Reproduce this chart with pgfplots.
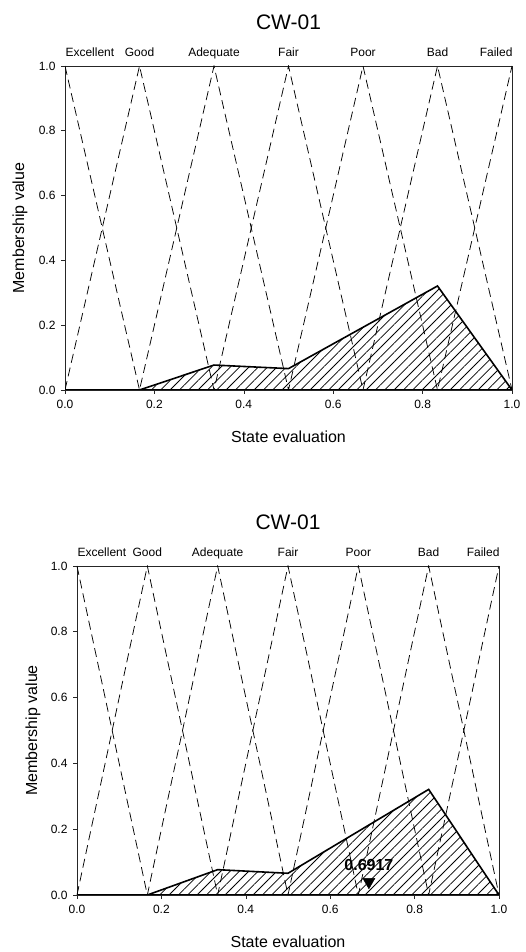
\documentclass[border=0pt]{standalone}
\usepackage{fontspec}
\setmainfont{Liberation Sans}
\usepackage{pgfplots}
\pgfplotsset{compat=1.18}
\usetikzlibrary{patterns.meta}

\pgfplotsset{
  fuzzy/.style={
    scale only axis,
    xmin=0, xmax=1, ymin=0, ymax=1,
    xtick={0,0.2,0.4,0.6,0.8,1.0},
    ytick={0,0.2,0.4,0.6,0.8,1.0},
    /pgf/number format/assume math mode=true,
    /pgf/number format/fixed,
    /pgf/number format/fixed zerofill,
    /pgf/number format/precision=1,
    tick align=outside,
    xtick pos=bottom, ytick pos=left,
    major tick length=4pt,
    tick style={black!85, line width=0.6pt},
    axis line style={black!85, line width=0.8pt},
    tick label style={font=\fontsize{12}{14}\selectfont},
    xticklabel style={yshift=-3pt},
    yticklabel style={xshift=-2pt},
    xlabel={State evaluation},
    ylabel={Membership value},
    title={CW-01},
    clip mode=individual,
  },
  dash/.style={black, line width=0.75pt, dash pattern=on 9pt off 5pt},
  area/.style={black, line width=1.6pt, line join=miter,
    pattern={Lines[angle=45,distance=6.6pt,line width=0.75pt]}, pattern color=black},
}

\pgfplotstableread{
x y
0 1
0.16667 0
0.33333 1
0.5 0
0.66667 1
0.83333 0
1 1
}\zigA
\pgfplotstableread{
x y
0 0
0.16667 1
0.33333 0
0.5 1
0.66667 0
0.83333 1
1 0
}\zigB
\pgfplotstableread{
x y
0 0
0.16667 0
0.33333 0.077
0.5 0.066
0.83333 0.321
1 0
}\agg

\newcommand{\catlabels}{%
  \node[anchor=base west, font=\fontsize{12}{14}\selectfont] at (axis cs:0,1) [xshift=-3pt, yshift=9pt] {Excellent};
  \node[anchor=base, font=\fontsize{12}{14}\selectfont] at (axis cs:0.16667,1) [yshift=9pt] {Good};
  \node[anchor=base, font=\fontsize{12}{14}\selectfont] at (axis cs:0.33333,1) [yshift=9pt] {Adequate};
  \node[anchor=base, font=\fontsize{12}{14}\selectfont] at (axis cs:0.5,1) [yshift=9pt] {Fair};
  \node[anchor=base, font=\fontsize{12}{14}\selectfont] at (axis cs:0.66667,1) [yshift=9pt] {Poor};
  \node[anchor=base, font=\fontsize{12}{14}\selectfont] at (axis cs:0.83333,1) [yshift=9pt] {Bad};
  \node[anchor=base east, font=\fontsize{12}{14}\selectfont] at (axis cs:1,1) [xshift=4pt, yshift=9pt] {Failed};
}

\begin{document}
\begin{tikzpicture}[x=1pt,y=1pt]
\useasboundingbox (0,0) rectangle (525,952);
\begin{axis}[fuzzy,
  at={(65pt,562pt)}, anchor=south west,
  width=447pt, height=324pt,
  every axis y label/.style={at={(axis description cs:-0.1007,0.5)}, anchor=center, rotate=90, font=\fontsize{16}{19}\selectfont},
  every axis x label/.style={at={(axis description cs:0.5,-0.145)}, anchor=center, font=\fontsize{16}{19}\selectfont},
  every axis title/.style={at={(axis description cs:0.5,1.136)}, anchor=center, font=\fontsize{21}{24}\selectfont},
]
\addplot[area] table {\agg} \closedcycle;
\addplot[dash] table {\zigA};
\addplot[dash] table {\zigB};
\catlabels
\end{axis}

\begin{axis}[fuzzy,
  at={(77pt,57pt)}, anchor=south west,
  width=422pt, height=329pt,
  every axis y label/.style={at={(axis description cs:-0.104,0.5)}, anchor=center, rotate=90, font=\fontsize{16}{19}\selectfont},
  every axis x label/.style={at={(axis description cs:0.5,-0.143)}, anchor=center, font=\fontsize{16}{19}\selectfont},
  every axis title/.style={at={(axis description cs:0.5,1.134)}, anchor=center, font=\fontsize{21}{24}\selectfont},
]
\addplot[area] table {\agg} \closedcycle;
\addplot[dash] table {\zigA};
\addplot[dash] table {\zigB};
\addplot[only marks, mark=triangle*, mark size=7pt, mark options={rotate=180, fill=black}] coordinates {(0.6917,0.04)};
\node[font=\bfseries\fontsize{16}{18}\selectfont, anchor=center] at (axis cs:0.6917,0.091) {0.6917};
\catlabels
\end{axis}
\end{tikzpicture}
\end{document}
